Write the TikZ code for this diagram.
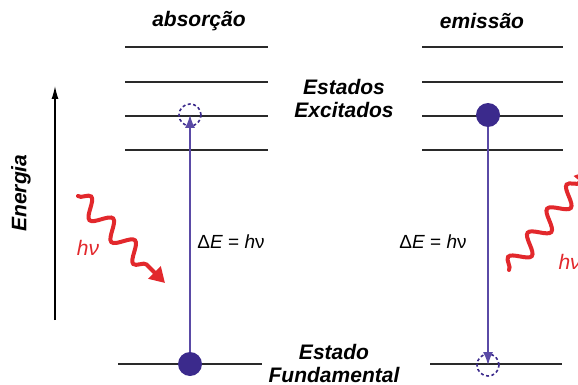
\documentclass[tikz,border=0pt]{standalone}
\usepackage{fontspec}
\setmainfont{Liberation Sans}
\usetikzlibrary{arrows.meta, decorations.pathmorphing}
\definecolor{eroxo}{HTML}{3B2A8C}
\definecolor{elinha}{HTML}{5A4AA6}
\definecolor{evermelho}{HTML}{E2282C}
\definecolor{enivel}{HTML}{2A2A2A}
\tikzset{
  nivel/.style={draw=enivel, line width=1.8pt},
  cheio/.style={circle, fill=eroxo, minimum size=24pt, inner sep=0pt},
  vazio/.style={circle, draw=eroxo, line width=1.6pt, dash pattern=on 3pt off 2.5pt,
                minimum size=22pt, inner sep=0pt},
  trans/.style={-{Latex[length=13pt,width=10pt]}, elinha, line width=1.6pt},
  foton/.style={evermelho, line width=4pt, line cap=round, decorate,
                decoration={snake, amplitude=9pt, segment length=31pt, post length=16pt},
                -{Triangle[length=15pt,width=17pt]}},
  rotulo/.style={font=\fontsize{21}{23}\selectfont\bfseries\itshape, align=center},
  eq/.style={font=\fontsize{19}{20}\selectfont},
  hnu/.style={font=\fontsize{21}{22}\selectfont\itshape, evermelho},
}
\begin{document}
\begin{tikzpicture}[x=1pt, y=-1pt]
  \useasboundingbox (0,0) rectangle (578,385);
  \clip (0,0) rectangle (578,385);

  % niveis de energia
  \foreach \y in {47,82,116,150} {
    \draw[nivel] (125,\y) -- (268,\y);
    \draw[nivel] (422,\y) -- (563,\y);
  }
  \draw[nivel] (118,364) -- (262,364);
  \draw[nivel] (430,364) -- (562,364);

  \node[rotulo] (tabs) at (199,21) {absorção};
  \node[rotulo] (temi) at (482,21) {emissão};
  \node[rotulo] (texc) at (344,98) {Estados\\Excitados};
  \node[rotulo] (tfund) at (334,363) {Estado\\Fundamental};

  % eixo de energia
  \coordinate (ebase) at (55,320);
  \coordinate (etopo) at (55,86);
  \draw[-{Latex[length=13pt,width=7pt]}, line width=1.3pt] (ebase) -- (etopo);
  \node[rotulo, rotate=90] (tenergia) at (21,193) {Energia};

  % absorcao
  \node[cheio] (gL) at (190,364) {};
  \node[vazio] (eL) at (190,115) {};
  \draw[trans] (gL) -- (eL.center);
  \node[eq] (dEl) at (231,242) {Δ\textit{E} = \textit{h}ν};

  % emissao
  \node[cheio] (eR) at (488,115) {};
  \node[vazio] (gR) at (488,365) {};
  \draw[trans] (eR) -- (gR.center);
  \node[eq] (dEr) at (433,242) {Δ\textit{E} = \textit{h}ν};

  % fotoes
  \coordinate (fl1) at (78,196);
  \coordinate (fl2) at (165,283);
  \draw[foton] (fl1) -- (fl2);
  \node[hnu] (hvl) at (88,248) {hν};

  \coordinate (fr1) at (509,270);
  \coordinate (fr2) at (590,170);
  \draw[foton] (fr1) -- (fr2);
  \node[hnu, anchor=west] (hvr) at (555,262) {hν};
\end{tikzpicture}
\end{document}
